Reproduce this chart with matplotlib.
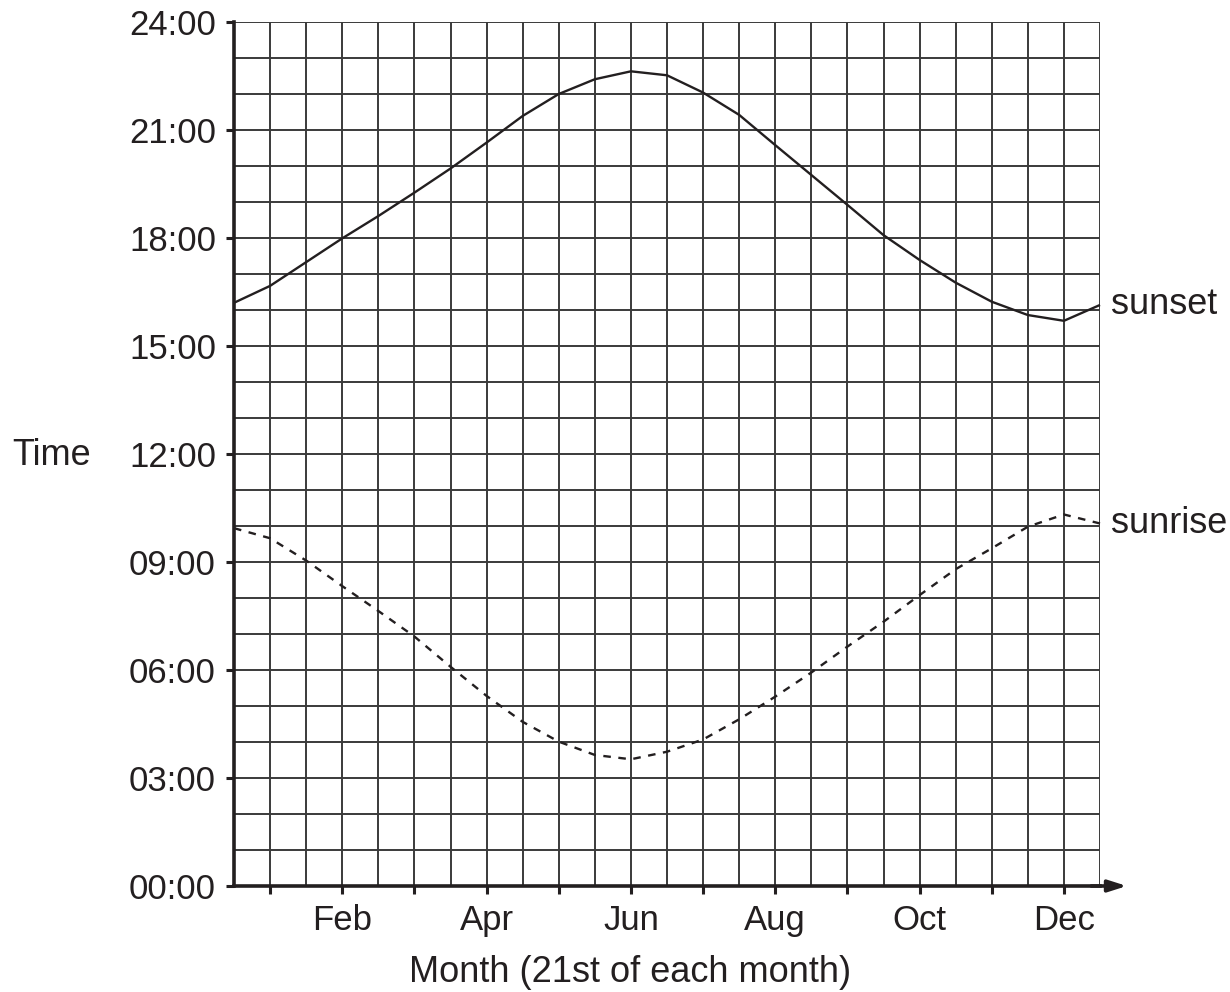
import numpy as np
import matplotlib
matplotlib.use("Agg")
import matplotlib.pyplot as plt
from matplotlib.ticker import MultipleLocator

# Data: month position (1 = Jan 21st, ... 12 = Dec 21st), half-month steps
months = [0.5, 1.0, 1.5, 2.0, 2.5, 3.0, 3.5, 4.0, 4.5, 5.0, 5.5, 6.0, 6.5,
          7.0, 7.5, 8.0, 8.5, 9.0, 9.5, 10.0, 10.5, 11.0, 11.5, 12.0, 12.5]
sunset = [16.20, 16.67, 17.33, 17.99, 18.61, 19.26, 19.93, 20.65, 21.39, 22.00,
          22.41, 22.63, 22.52, 22.04, 21.42, 20.58, 19.75, 18.92, 18.08, 17.39,
          16.76, 16.23, 15.86, 15.70, 16.14]
sunrise = [9.94, 9.66, 9.04, 8.33, 7.64, 6.93, 6.09, 5.28, 4.56, 4.01,
           3.64, 3.52, 3.73, 4.07, 4.63, 5.26, 5.93, 6.65, 7.34, 8.08,
           8.80, 9.38, 9.98, 10.32, 10.07]
month_ticks = list(range(1, 13))
month_labels = ["", "Feb", "", "Apr", "", "Jun", "", "Aug", "", "Oct", "", "Dec"]
hour_ticks = [0, 3, 6, 9, 12, 15, 18, 21, 24]
hour_labels = ["00:00", "03:00", "06:00", "09:00", "12:00", "15:00", "18:00", "21:00", "24:00"]

plt.rcParams['font.family'] = ['Liberation Sans', 'DejaVu Sans']
ink = '#231f20'
gridc = '#3a3a3a'
fs_tick = 25
fs_text = 26

fig = plt.figure(figsize=(12.3, 9.92), dpi=100)
ax = fig.add_axes([234/1230, 1-886/992, (1100-234)/1230, (886-22)/992])

ax.set_xlim(0.5, 12.5)
ax.set_ylim(0, 24)

ax.set_xticks(month_ticks)
ax.set_xticklabels(month_labels)
ax.set_yticks(hour_ticks)
ax.set_yticklabels(hour_labels)
ax.xaxis.set_minor_locator(MultipleLocator(0.5))
ax.yaxis.set_minor_locator(MultipleLocator(1))

ax.tick_params(axis='both', which='major', direction='out', length=6, width=2.2,
               color=ink, labelsize=fs_tick, labelcolor=ink)
ax.tick_params(axis='x', which='major', pad=7)
ax.tick_params(axis='y', which='major', pad=7)
ax.tick_params(axis='both', which='minor', length=0)

ax.grid(True, which='both', color=gridc, linewidth=1.4)
ax.set_axisbelow(True)

for s in ['top', 'right']:
    ax.spines[s].set_visible(False)
for s in ['left', 'bottom']:
    ax.spines[s].set_linewidth(2.6)
    ax.spines[s].set_color(ink)

ax.plot(months, sunset, color=ink, linewidth=1.7, solid_capstyle='butt',
        solid_joinstyle='round', clip_on=False)
ax.plot(months, sunrise, color=ink, linewidth=1.7, linestyle=(0, (3.2, 3.2)), clip_on=False)

ax.annotate('sunset', xy=(months[-1], sunset[-1]), xytext=(8, 0),
            textcoords='offset points', va='center', ha='left',
            fontsize=fs_text, color=ink, annotation_clip=False)
ax.annotate('sunrise', xy=(months[-1], sunrise[-1]), xytext=(8, 0),
            textcoords='offset points', va='center', ha='left',
            fontsize=fs_text, color=ink, annotation_clip=False)

# x-axis arrow
ax.annotate('', xy=(1.031, 0), xytext=(0.99, 0), xycoords='axes fraction',
            textcoords='axes fraction',
            arrowprops=dict(arrowstyle='-|>,head_length=1.1,head_width=0.35',
                            color=ink, linewidth=2.6, shrinkA=0, shrinkB=0),
            annotation_clip=False)

fig.text(12/1230, 1-455/992, 'Time', fontsize=fs_text, color=ink, ha='left', va='center')
fig.text(630/1230, 1-973/992, 'Month (21st of each month)', fontsize=fs_text,
         color=ink, ha='center', va='center')

fig.savefig('out.png', dpi=100)
